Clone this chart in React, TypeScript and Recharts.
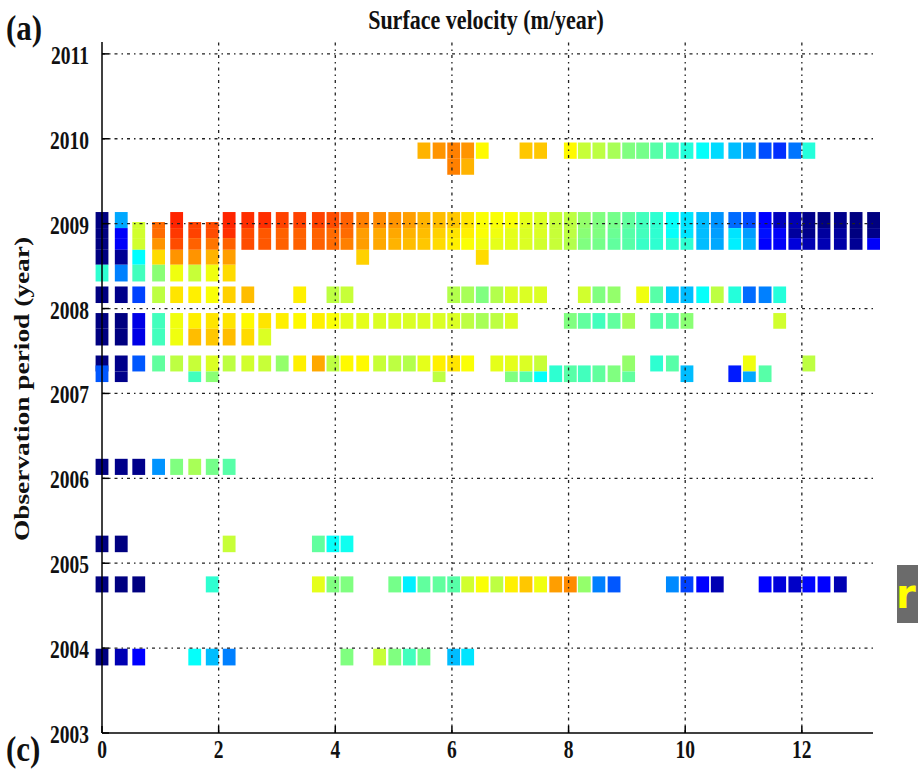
import React from 'react';
import { ComposedChart, XAxis, YAxis, ReferenceArea, ReferenceLine } from 'recharts';

// distance along the flow line (km) of every sample column
const distanceKm = [
  0, 0.33, 0.63, 0.97, 1.28, 1.59, 1.89, 2.18, 2.5, 2.79, 3.09, 3.39, 3.71, 3.96, 4.2, 4.47, 4.76,
  5.02, 5.27, 5.52, 5.78, 6.03, 6.27, 6.52, 6.77, 7.02, 7.27, 7.52, 7.78, 8.03, 8.27, 8.52, 8.78,
  9.03, 9.27, 9.51, 9.78, 10.03, 10.3, 10.55, 10.85, 11.1, 11.37, 11.62, 11.88, 12.12, 12.38,
  12.66, 12.93, 13.23,
];

// observation periods [start, end] (decimal year)
const p2010a = [2009.764, 2009.956];
const p2010b = [2009.576, 2009.764];
const p2009a = [2008.948, 2009.137];
const p2009a2 = [2008.948, 2009.019];
const p2009b = [2008.83, 2008.948];
const p2009c = [2008.692, 2008.83];
const p2009d = [2008.516, 2008.692];
const p2009e = [2008.319, 2008.516];
const p2008 = [2008.065, 2008.26];
const p2007a = [2007.762, 2007.947];
const p2007b = [2007.565, 2007.762];
const p2007c = [2007.259, 2007.447];
const p2007d = [2007.134, 2007.259];
const p2007e = [2007.134, 2007.33];
const p2006 = [2006.04, 2006.23];
const p2005a = [2005.13, 2005.325];
const p2005b = [2004.656, 2004.845];
const p2004 = [2003.796, 2003.993];

// [column index, surface velocity] per period
const v2010a = [[19,70],[20,73],[21,75],[22,73],[23,63],[26,68],[27,68],[29,63],[30,57],[31,56],[32,54],[33,50],[34,49],[35,46],[36,44],[37,41],[38,38],[39,34],[40,31],[41,27],[42,20],[43,17],[44,24],[45,41]];
const v2010b = [[21,75],[22,70]];
const v2009a = [[0,0],[1,29],[4,84],[7,84],[8,83],[9,83],[10,81],[11,81],[12,81],[13,80],[14,78],[15,75],[16,74],[17,73],[18,72],[19,70],[20,69],[21,68],[22,65],[23,62],[24,62],[25,62],[26,60],[27,59],[28,57],[29,56],[30,52],[31,50],[32,49],[33,47],[34,44],[35,42],[36,38],[37,35],[38,31],[39,27],[40,23],[41,20],[42,12.5],[43,6],[44,5],[45,1],[46,0],[47,1],[48,0],[49,0]];
const v2009a2 = [[2,58],[3,77],[5,81],[6,80]];
const v2009b = [[0,0],[1,12],[2,58],[3,77],[4,82],[5,81],[6,80],[7,83],[8,80],[9,79],[10,78],[11,78],[12,78],[13,77],[14,77],[15,72],[16,71],[17,71],[18,70],[19,69],[20,67],[21,65],[22,64],[23,62],[24,61],[25,60],[26,59],[27,59],[28,57],[29,56],[30,51],[31,50],[32,48],[33,46],[34,44],[35,42],[36,38],[37,35],[38,31],[39,28],[40,35],[41,28],[42,14],[43,12],[44,3],[45,1],[46,3],[47,3],[48,0],[49,1]];
const v2009c = [[0,0],[1,12],[2,58],[3,73],[4,80],[5,78],[6,76],[7,78],[8,80],[9,79],[10,78],[11,78],[12,78],[13,77],[14,75],[15,72],[16,71],[17,70],[18,69],[19,68],[20,66],[21,64],[22,62],[23,61],[24,60],[25,60],[26,59],[27,58],[28,57],[29,55],[30,50],[31,49],[32,47],[33,46],[34,43],[35,42],[36,42],[37,42],[38,31],[39,29],[40,36],[41,30],[42,12.5],[43,12],[44,9],[45,5],[46,5],[47,4],[48,2],[49,12]];
const v2009d = [[0,0],[1,2],[2,37.5],[3,66],[4,73],[5,73],[6,70],[7,72],[15,67],[23,66]];
const v2009e = [[0,42],[1,25],[2,44],[3,51],[4,61],[5,57],[6,61],[7,66]];
const v2008 = [[0,0],[1,1],[2,19],[3,56],[4,65],[5,64],[6,62],[7,67],[8,69],[11,64],[13,56],[14,57],[21,55],[22,54],[23,50],[24,55],[25,59],[26,59],[27,59],[30,58],[31,50],[32,52],[34,61],[35,46],[36,33],[37,31],[38,38],[39,56],[40,41],[41,23],[42,25],[43,41]];
const v2007a = [[0,0],[1,0],[2,10],[3,44],[4,61],[5,64],[6,65],[7,65],[8,63],[9,65],[10,64],[11,63],[12,64],[13,62],[14,60],[15,60],[16,59],[17,59],[18,59],[19,59],[20,59],[21,59],[22,56],[23,54],[24,56],[25,59],[29,50],[30,47],[31,44],[32,47],[33,54],[35,46],[36,46],[37,51],[43,58]];
const v2007b = [[0,0],[1,0],[2,10],[3,44],[4,61],[5,69],[6,68],[7,69],[8,66],[9,59]];
const v2007c = [[0,0],[1,1],[2,21],[3,47],[4,56],[5,57],[6,59],[7,56],[8,58],[9,57],[10,52],[11,64],[12,71],[13,56],[14,63],[15,63],[16,57],[17,56],[18,55],[19,60],[20,64],[21,65],[22,62],[24,60],[25,60],[26,59],[27,57],[33,52],[35,42],[36,46],[41,61],[45,56]];
const v2007d = [[1,1],[5,44],[6,51],[20,56],[25,50],[26,46],[27,38],[33,47],[41,29]];
const v2007e = [[0,21],[28,42],[29,46],[30,44],[31,47],[32,50],[37,31],[40,15],[42,46]];
const v2006 = [[0,0],[1,1],[2,1],[3,27],[4,50],[5,54],[6,49],[7,46]];
const v2005a = [[0,0],[1,0],[7,57],[12,47],[13,38],[14,39]];
const v2005b = [[0,0],[1,0],[2,0],[6,42],[12,60],[13,50],[14,50],[17,49],[18,36],[19,47],[20,47],[21,46],[22,58],[23,62],[24,56],[25,64],[26,68],[27,61],[28,72],[29,74],[30,52],[31,25],[32,21],[36,26],[37,19],[38,12.5],[39,5],[42,12.5],[43,9],[44,7],[45,13],[46,12.5],[47,5]];
const v2004 = [[0,0],[1,5],[2,12.5],[5,38],[6,31],[7,25],[14,50],[16,57],[17,50],[18,44],[19,49],[21,31],[22,35]];

const xTicks = [0, 2, 4, 6, 8, 10, 12];
const yTicks = [2003, 2004, 2005, 2006, 2007, 2008, 2009, 2010, 2011];
const gridX = [2, 4, 6, 8, 10, 12];
const gridY = [2004, 2005, 2006, 2007, 2008, 2009, 2010, 2011];

const V_MIN = 0;
const V_MAX = 100;
const HALF_W = 0.11; // half width of a sample column, km

const clamp = (n: number) => Math.max(0, Math.min(1, n));
const jet = (v: number) => {
  const t = clamp((v - V_MIN) / (V_MAX - V_MIN));
  const r = clamp(1.5 - Math.abs(4 * t - 3));
  const g = clamp(1.5 - Math.abs(4 * t - 2));
  const b = clamp(1.5 - Math.abs(4 * t - 1));
  return `rgb(${Math.round(r * 255)},${Math.round(g * 255)},${Math.round(b * 255)})`;
};

const serif = '"Liberation Serif", "Times New Roman", serif';

const XTick = ({ x, y, payload }: any) => (
  <text transform={`translate(${x},${y}) scale(1,1.27)`} textAnchor="middle" fontFamily={serif} fontWeight="bold" fontSize={19.5} fill="#111">
    {payload.value}
  </text>
);

const YTick = ({ x, y, payload }: any) => (
  <text transform={`translate(${x},${y + 10}) scale(1,1.27)`} textAnchor="end" fontFamily={serif} fontWeight="bold" fontSize={19.5} fill="#111">
    {payload.value}
  </text>
);

const App: React.FC = () => {
  const rows = [
    [p2010a, v2010a], [p2010b, v2010b],
    [p2009a, v2009a], [p2009a2, v2009a2], [p2009b, v2009b], [p2009c, v2009c], [p2009d, v2009d], [p2009e, v2009e],
    [p2008, v2008],
    [p2007a, v2007a], [p2007b, v2007b], [p2007c, v2007c], [p2007d, v2007d], [p2007e, v2007e],
    [p2006, v2006], [p2005a, v2005a], [p2005b, v2005b], [p2004, v2004],
  ] as [number[], number[][]][];

  // dotted / dash-dot grid like the original plot
  const dash = '3 4 1.5 4';

  return (
    <div style={{ position: 'absolute', left: 0, top: 0, width: 918, height: 769, background: '#fff' }}>
      <ComposedChart width={918} height={769} margin={{ top: 42, right: 45, left: 42, bottom: 6 }}>
        <XAxis
          type="number"
          dataKey="x"
          domain={[0, 13.22]}
          ticks={xTicks}
          allowDataOverflow
          height={30}
          axisLine={{ stroke: '#000', strokeWidth: 1.5 }}
          tickLine={{ stroke: '#000', strokeWidth: 1.5 }}
          tickSize={-7}
          tickMargin={32}
          tick={<XTick />}
        />
        <YAxis
          type="number"
          dataKey="y"
          domain={[2003, 2011.14]}
          ticks={yTicks}
          allowDataOverflow
          width={60}
          axisLine={{ stroke: '#000', strokeWidth: 1.5 }}
          tickLine={{ stroke: '#000', strokeWidth: 1.5 }}
          tickSize={-7}
          tickMargin={20}
          tick={<YTick />}
        />
        {rows.map(([period, cells], ri) =>
          cells.map(([col, v]) => (
            <ReferenceArea
              key={`c-${ri}-${col}`}
              x1={distanceKm[col] - HALF_W}
              x2={distanceKm[col] + HALF_W}
              y1={period[0]}
              y2={period[1]}
              fill={jet(v)}
              fillOpacity={1}
              stroke="none"
              ifOverflow="visible"
            />
          ))
        )}
        {gridY.map((t) => (
          <ReferenceLine key={`gy-${t}`} y={t} stroke="#222" strokeWidth={1.3} strokeDasharray={dash} />
        ))}
        {gridX.map((t) => (
          <ReferenceLine key={`gx-${t}`} x={t} stroke="#222" strokeWidth={1.3} strokeDasharray={dash} />
        ))}
      </ComposedChart>

      <svg width={918} height={769} style={{ position: 'absolute', left: 0, top: 0, pointerEvents: 'none' }}>
        <text transform="translate(486,29) scale(1,1.25)" textAnchor="middle" fontFamily={serif} fontWeight="bold" fontSize={22} fill="#111">
          Surface velocity (m/year)
        </text>
        <text transform="translate(29,389) rotate(-90) scale(1.37,1)" textAnchor="middle" fontFamily={serif} fontWeight="bold" fontSize={20} fill="#111">
          Observation period (year)
        </text>
        <text transform="translate(6,40) scale(1,1.15)" fontFamily={serif} fontWeight="bold" fontSize={31} fill="#111">
          (a)
        </text>
        <text transform="translate(6,761) scale(1,1.15)" fontFamily={serif} fontWeight="bold" fontSize={31} fill="#111">
          (c)
        </text>
      </svg>

      <div
        style={{
          position: 'absolute', left: 897, top: 565, width: 21, height: 58, background: '#6b6b6b',
          overflow: 'hidden', color: '#ffff00', fontFamily: '"DejaVu Sans", sans-serif', fontWeight: 'bold',
          fontSize: 40, lineHeight: '58px', textIndent: -1,
        }}
      >
        r
      </div>
    </div>
  );
};

export default App;
